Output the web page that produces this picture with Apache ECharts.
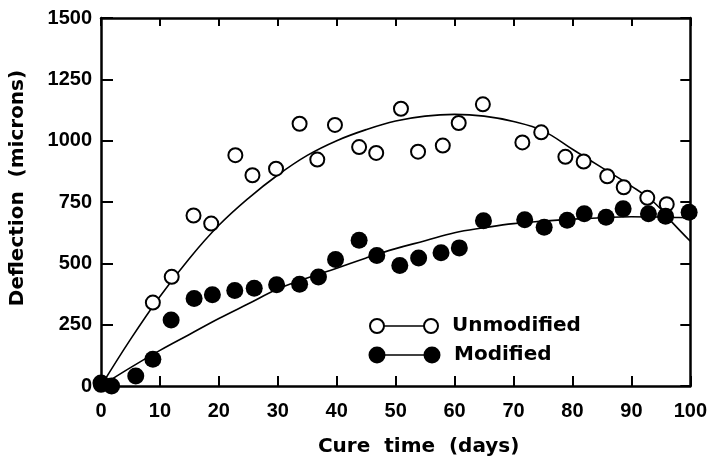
<!DOCTYPE html>
<html>
<head>
<meta charset="utf-8">
<script src="https://cdn.jsdelivr.net/npm/echarts@6/dist/echarts.min.js"></script>
<style>
  html, body { margin: 0; padding: 0; background: #fff; }
  #chart { width: 710px; height: 462px; }
</style>
</head>
<body>
<div id="chart"></div>
<script>
// values
var unmodDays = [0, 8.8, 12.0, 15.7, 18.7, 22.8, 25.7, 29.7, 33.7, 36.7, 39.7, 43.8, 46.7, 50.9, 53.8, 58.0, 60.7, 64.8, 71.5, 74.7, 78.8, 81.9, 85.9, 88.7, 92.7, 96.0];
var unmodDefl = [5, 340, 445, 695, 662, 941, 859, 886, 1069, 923, 1064, 974, 950, 1130, 955, 980, 1072, 1148, 993, 1034, 934, 915, 855, 810, 767, 741];

var modDays = [0, 1.8, 5.9, 8.8, 11.9, 15.8, 18.9, 22.7, 26.0, 29.8, 33.7, 36.9, 39.8, 43.8, 46.8, 50.7, 53.9, 57.7, 60.8, 64.9, 71.9, 75.2, 79.1, 82.0, 85.7, 88.6, 92.9, 95.8, 99.8];
var modDefl = [12, 0, 41, 109, 269, 357, 372, 389, 398, 413, 415, 444, 516, 594, 532, 491, 522, 543, 563, 674, 678, 647, 676, 702, 688, 722, 702, 692, 708];

// hand drawn fit curves
var fitDays = [0, 5, 10, 15, 20, 25, 30, 35, 40, 45, 50, 55, 60, 65, 70, 75, 80, 85, 90, 94, 97, 100];
var unmodFit = [0, 190, 365, 520, 655, 765, 860, 940, 1000, 1045, 1080, 1100, 1107, 1100, 1078, 1040, 965, 890, 815, 745, 665, 590];
var modFit = [0, 75, 145, 210, 275, 335, 395, 440, 480, 522, 560, 592, 625, 645, 662, 672, 680, 686, 690, 689, 687, 686];

var xTicks = [0, 10, 20, 30, 40, 50, 60, 70, 80, 90, 100];
var yTicks = [0, 250, 500, 750, 1000, 1250, 1500];

function pairs(xs, ys) {
    var out = [];
    for (var i = 0; i < xs.length; i++) out.push([xs[i], ys[i]]);
    return out;
}

var myChart = echarts.init(document.getElementById('chart'));

var labelFont = {
    color: '#000',
    fontFamily: 'Liberation Sans',
    fontWeight: 'bold',
    fontSize: 20,
    formatter: function (v) { return String(v); }
};
var nameFont = 'DejaVu Sans';
var frameLine = { onZero: false, lineStyle: { color: '#000', width: 2.5 } };

var option = {
    backgroundColor: '#fff',
    animation: false,
    grid: { left: 101, right: 17, top: 18, bottom: 75 },
    xAxis: [{
        type: 'value',
        min: xTicks[0],
        max: xTicks[xTicks.length - 1],
        interval: 10,
        name: 'Cure  time  (days)',
        nameLocation: 'middle',
        nameGap: 51,
        nameTextStyle: {
            color: '#000', fontFamily: nameFont, fontWeight: 'bold', fontSize: 20,
            padding: [0, 0, 0, 46]
        },
        axisLine: frameLine,
        axisTick: { inside: true, length: 10, lineStyle: { color: '#000', width: 2 } },
        axisLabel: Object.assign({ margin: 15 }, labelFont),
        splitLine: { show: false }
    }, {
        type: 'value',
        position: 'top',
        min: 0, max: 100, interval: 10,
        axisLine: frameLine,
        axisTick: { inside: true, length: 8, lineStyle: { color: '#000', width: 2 } },
        axisLabel: { show: false },
        splitLine: { show: false }
    }],
    yAxis: [{
        type: 'value',
        min: yTicks[0],
        max: yTicks[yTicks.length - 1],
        interval: 250,
        name: 'Deflection  (microns)',
        nameLocation: 'middle',
        nameGap: 73,
        nameTextStyle: {
            color: '#000', fontFamily: nameFont, fontWeight: 'bold', fontSize: 20,
            padding: [0, 0, 0, 28]
        },
        axisLine: frameLine,
        axisTick: { inside: true, length: 12, lineStyle: { color: '#000', width: 2 } },
        axisLabel: Object.assign({ margin: 9 }, labelFont),
        splitLine: { show: false }
    }, {
        type: 'value',
        position: 'right',
        min: 0, max: 1500, interval: 250,
        axisLine: frameLine,
        axisTick: { inside: true, length: 10, lineStyle: { color: '#000', width: 2 } },
        axisLabel: { show: false },
        splitLine: { show: false }
    }],
    series: [
        {
            name: 'Unmodified fit',
            type: 'line',
            data: pairs(fitDays, unmodFit),
            smooth: 0.4,
            showSymbol: false,
            lineStyle: { color: '#000', width: 1.6 },
            z: 2
        },
        {
            name: 'Modified fit',
            type: 'line',
            data: pairs(fitDays, modFit),
            smooth: 0.4,
            showSymbol: false,
            lineStyle: { color: '#000', width: 1.6 },
            z: 2
        },
        {
            name: 'Unmodified',
            type: 'scatter',
            data: pairs(unmodDays, unmodDefl),
            symbol: 'circle',
            symbolSize: 14,
            itemStyle: { color: '#fff', borderColor: '#000', borderWidth: 2, opacity: 1 },
            z: 3
        },
        {
            name: 'Modified',
            type: 'scatter',
            data: pairs(modDays, modDefl),
            symbol: 'circle',
            symbolSize: 17,
            itemStyle: { color: '#000', opacity: 1 },
            z: 4
        }
    ],
    graphic: [
        // legend, drawn by hand to get the circle-line-circle look
        { type: 'line', shape: { x1: 377, y1: 326, x2: 431, y2: 326 }, style: { stroke: '#000', lineWidth: 1.6 }, z: 10 },
        { type: 'circle', shape: { cx: 377, cy: 326, r: 7 }, style: { fill: '#fff', stroke: '#000', lineWidth: 2 }, z: 11 },
        { type: 'circle', shape: { cx: 431, cy: 326, r: 7 }, style: { fill: '#fff', stroke: '#000', lineWidth: 2 }, z: 11 },
        { type: 'text', x: 452, y: 326, style: { text: 'Unmodified', fill: '#000', font: 'bold 20px "DejaVu Sans"', textVerticalAlign: 'middle' }, z: 11 },
        { type: 'line', shape: { x1: 377, y1: 355, x2: 432, y2: 355 }, style: { stroke: '#000', lineWidth: 1.6 }, z: 10 },
        { type: 'circle', shape: { cx: 377, cy: 355, r: 8.5 }, style: { fill: '#000' }, z: 11 },
        { type: 'circle', shape: { cx: 432, cy: 355, r: 8.5 }, style: { fill: '#000' }, z: 11 },
        { type: 'text', x: 454, y: 355, style: { text: 'Modified', fill: '#000', font: 'bold 20px "DejaVu Sans"', textVerticalAlign: 'middle' }, z: 11 }
    ]
};

myChart.setOption(option);
</script>
</body>
</html>
